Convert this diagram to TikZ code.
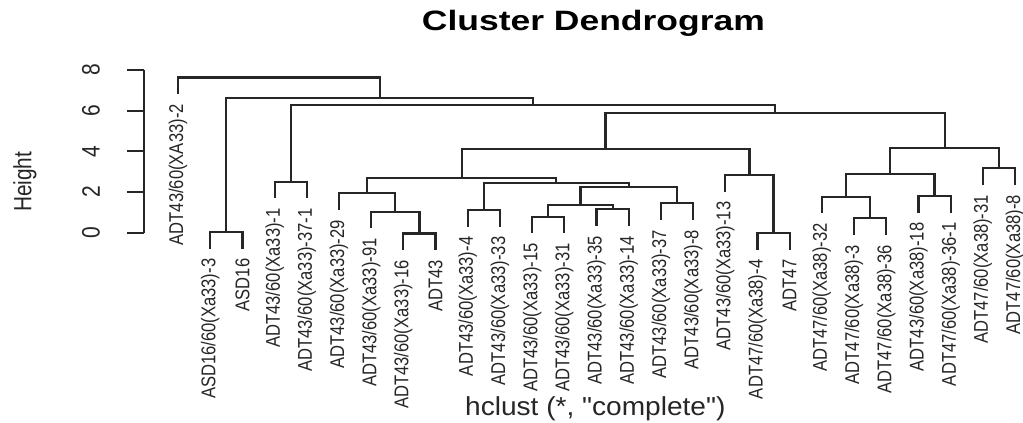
\documentclass[tikz,border=0pt]{standalone}
\usepackage{fontspec}
\usepackage{graphicx}
\setmainfont{Liberation Sans}
\newfontfamily\plainfont[Ligatures=TeXOff]{Liberation Sans}
\newcommand\leafstretch[1]{\scalebox{1}[1.2]{#1}}
\tikzset{
  dlink/.style={draw=black!85, line width=2.2pt, line cap=rect},
  axisline/.style={draw=black!85, line width=2pt},
  leaflab/.style={rotate=90, anchor=east, inner sep=0pt, font=\fontsize{16.6}{18}\selectfont, text=black!85},
  ticklab/.style={rotate=90, inner sep=0pt, font=\fontsize{21}{23}\selectfont, text=black!85},
}
\begin{document}
\begin{tikzpicture}[x=1pt,y=-1pt]
\useasboundingbox (0,0) rectangle (1023,423);
\fill[white] (0,0) rectangle (1023,423);

% leaf tips (bottom ends of the leaf segments)
\coordinate (l1) at (178.0,93.0);
\coordinate (l2) at (210.2,247.5);
\coordinate (l3) at (242.4,247.5);
\coordinate (l4) at (274.6,197.2);
\coordinate (l5) at (306.8,197.2);
\coordinate (l6) at (339.0,208.8);
\coordinate (l7) at (371.2,227.2);
\coordinate (l8) at (403.3,249.0);
\coordinate (l9) at (435.5,249.0);
\coordinate (l10) at (467.7,225.5);
\coordinate (l11) at (499.9,225.5);
\coordinate (l12) at (532.1,232.2);
\coordinate (l13) at (564.3,232.2);
\coordinate (l14) at (596.5,224.8);
\coordinate (l15) at (628.7,224.8);
\coordinate (l16) at (660.9,218.8);
\coordinate (l17) at (693.1,218.8);
\coordinate (l18) at (725.3,190.5);
\coordinate (l19) at (757.5,248.5);
\coordinate (l20) at (789.6,248.5);
\coordinate (l21) at (821.8,212.2);
\coordinate (l22) at (854.0,233.8);
\coordinate (l23) at (886.2,233.8);
\coordinate (l24) at (918.4,211.5);
\coordinate (l25) at (950.6,211.5);
\coordinate (l26) at (982.8,183.8);
\coordinate (l27) at (1015.0,183.8);

% merge points
\coordinate (mA) at (226.3,232.0);
\coordinate (mB) at (290.7,181.7);
\coordinate (mC) at (419.4,233.5);
\coordinate (mD) at (395.3,211.7);
\coordinate (mE) at (367.2,193.3);
\coordinate (mF) at (483.8,210.0);
\coordinate (mG) at (548.2,216.7);
\coordinate (mH) at (612.6,209.3);
\coordinate (mI) at (580.4,205.0);
\coordinate (mJ) at (677.0,203.3);
\coordinate (mK) at (628.7,186.7);
\coordinate (mL) at (556.2,182.7);
\coordinate (mM) at (461.7,178.3);
\coordinate (mN) at (773.5,233.0);
\coordinate (mO) at (749.4,175.0);
\coordinate (mP) at (605.5,149.3);
\coordinate (mQ) at (870.1,218.3);
\coordinate (mR) at (846.0,196.7);
\coordinate (mS) at (934.5,196.0);
\coordinate (mT) at (890.2,174.0);
\coordinate (mU) at (998.9,168.3);
\coordinate (mV) at (944.6,148.3);
\coordinate (mW) at (775.1,113.3);
\coordinate (mX) at (532.9,105.0);
\coordinate (mY) at (379.6,98.3);
\coordinate (mZ) at (278.8,77.5);

% links
\draw[dlink] (l2) |- (mA) -| (l3);
\draw[dlink] (l4) |- (mB) -| (l5);
\draw[dlink] (l8) |- (mC) -| (l9);
\draw[dlink] (l7) |- (mD) -| (mC);
\draw[dlink] (l6) |- (mE) -| (mD);
\draw[dlink] (l10) |- (mF) -| (l11);
\draw[dlink] (l12) |- (mG) -| (l13);
\draw[dlink] (l14) |- (mH) -| (l15);
\draw[dlink] (mG) |- (mI) -| (mH);
\draw[dlink] (l16) |- (mJ) -| (l17);
\draw[dlink] (mI) |- (mK) -| (mJ);
\draw[dlink] (mF) |- (mL) -| (mK);
\draw[dlink] (mE) |- (mM) -| (mL);
\draw[dlink] (l19) |- (mN) -| (l20);
\draw[dlink] (l18) |- (mO) -| (mN);
\draw[dlink] (mM) |- (mP) -| (mO);
\draw[dlink] (l22) |- (mQ) -| (l23);
\draw[dlink] (l21) |- (mR) -| (mQ);
\draw[dlink] (l24) |- (mS) -| (l25);
\draw[dlink] (mR) |- (mT) -| (mS);
\draw[dlink] (l26) |- (mU) -| (l27);
\draw[dlink] (mT) |- (mV) -| (mU);
\draw[dlink] (mP) |- (mW) -| (mV);
\draw[dlink] (mB) |- (mX) -| (mW);
\draw[dlink] (mA) |- (mY) -| (mX);
\draw[dlink] (l1) |- (mZ) -| (mY);

% leaf labels
\node[leaflab] (t1) at ([yshift=-11pt]l1) {\leafstretch{ADT43/60(XA33)-2}};
\node[leaflab] (t2) at ([yshift=-11pt]l2) {\leafstretch{ASD16/60(Xa33)-3}};
\node[leaflab] (t3) at ([yshift=-11pt]l3) {\leafstretch{ASD16}};
\node[leaflab] (t4) at ([yshift=-11pt]l4) {\leafstretch{ADT43/60(Xa33)-1}};
\node[leaflab] (t5) at ([yshift=-11pt]l5) {\leafstretch{ADT43/60(Xa33)-37-1}};
\node[leaflab] (t6) at ([yshift=-11pt]l6) {\leafstretch{ADT43/60(Xa33)-29}};
\node[leaflab] (t7) at ([yshift=-11pt]l7) {\leafstretch{ADT43/60(Xa33)-91}};
\node[leaflab] (t8) at ([yshift=-11pt]l8) {\leafstretch{ADT43/60(Xa33)-16}};
\node[leaflab] (t9) at ([yshift=-11pt]l9) {\leafstretch{ADT43}};
\node[leaflab] (t10) at ([yshift=-11pt]l10) {\leafstretch{ADT43/60(Xa33)-4}};
\node[leaflab] (t11) at ([yshift=-11pt]l11) {\leafstretch{ADT43/60(Xa33)-33}};
\node[leaflab] (t12) at ([yshift=-11pt]l12) {\leafstretch{ADT43/60(Xa33)-15}};
\node[leaflab] (t13) at ([yshift=-11pt]l13) {\leafstretch{ADT43/60(Xa33)-31}};
\node[leaflab] (t14) at ([yshift=-11pt]l14) {\leafstretch{ADT43/60(Xa33)-35}};
\node[leaflab] (t15) at ([yshift=-11pt]l15) {\leafstretch{ADT43/60(Xa33)-14}};
\node[leaflab] (t16) at ([yshift=-11pt]l16) {\leafstretch{ADT43/60(Xa33)-37}};
\node[leaflab] (t17) at ([yshift=-11pt]l17) {\leafstretch{ADT43/60(Xa33)-8}};
\node[leaflab] (t18) at ([yshift=-11pt]l18) {\leafstretch{ADT43/60(Xa33)-13}};
\node[leaflab] (t19) at ([yshift=-11pt]l19) {\leafstretch{ADT47/60(Xa38)-4}};
\node[leaflab] (t20) at ([yshift=-11pt]l20) {\leafstretch{ADT47}};
\node[leaflab] (t21) at ([yshift=-11pt]l21) {\leafstretch{ADT47/60(Xa38)-32}};
\node[leaflab] (t22) at ([yshift=-11pt]l22) {\leafstretch{ADT47/60(Xa38)-3}};
\node[leaflab] (t23) at ([yshift=-11pt]l23) {\leafstretch{ADT47/60(Xa38)-36}};
\node[leaflab] (t24) at ([yshift=-11pt]l24) {\leafstretch{ADT43/60(Xa38)-18}};
\node[leaflab] (t25) at ([yshift=-11pt]l25) {\leafstretch{ADT47/60(Xa38)-36-1}};
\node[leaflab] (t26) at ([yshift=-11pt]l26) {\leafstretch{ADT47/60(Xa38)-31}};
\node[leaflab] (t27) at ([yshift=-11pt]l27) {\leafstretch{ADT47/60(Xa38)-8}};

% axis
\coordinate (a0) at (144,232.7);
\coordinate (a8) at (144,70);
\draw[axisline] (a0) -- (a8);
\foreach \v/\yy in {0/232.7,2/192.0,4/151.4,6/110.7,8/70.0}{
  \coordinate (k\v) at (144,\yy);
  \draw[axisline] (k\v) -- ++(-17,0);
  \node[ticklab] (n\v) at (91,\yy) {\leafstretch{\v}};
}
\node[rotate=90, inner sep=0pt, font=\fontsize{20.8}{22}\selectfont, text=black!85] (ylab) at (25,181.7) {\leafstretch{Height}};

% title and x label
\node[anchor=base, inner sep=0pt, font=\fontsize{28}{30}\selectfont\bfseries] (title) at (593.4,30.7) {\scalebox{1.267}[1]{Cluster Dendrogram}};
\node[anchor=base, inner sep=0pt, font=\plainfont\fontsize{26}{28}\selectfont, text=black!85] (xlab) at (595.3,415) {\scalebox{1.08}[1]{hclust (*, "complete")}};
\end{tikzpicture}
\end{document}
